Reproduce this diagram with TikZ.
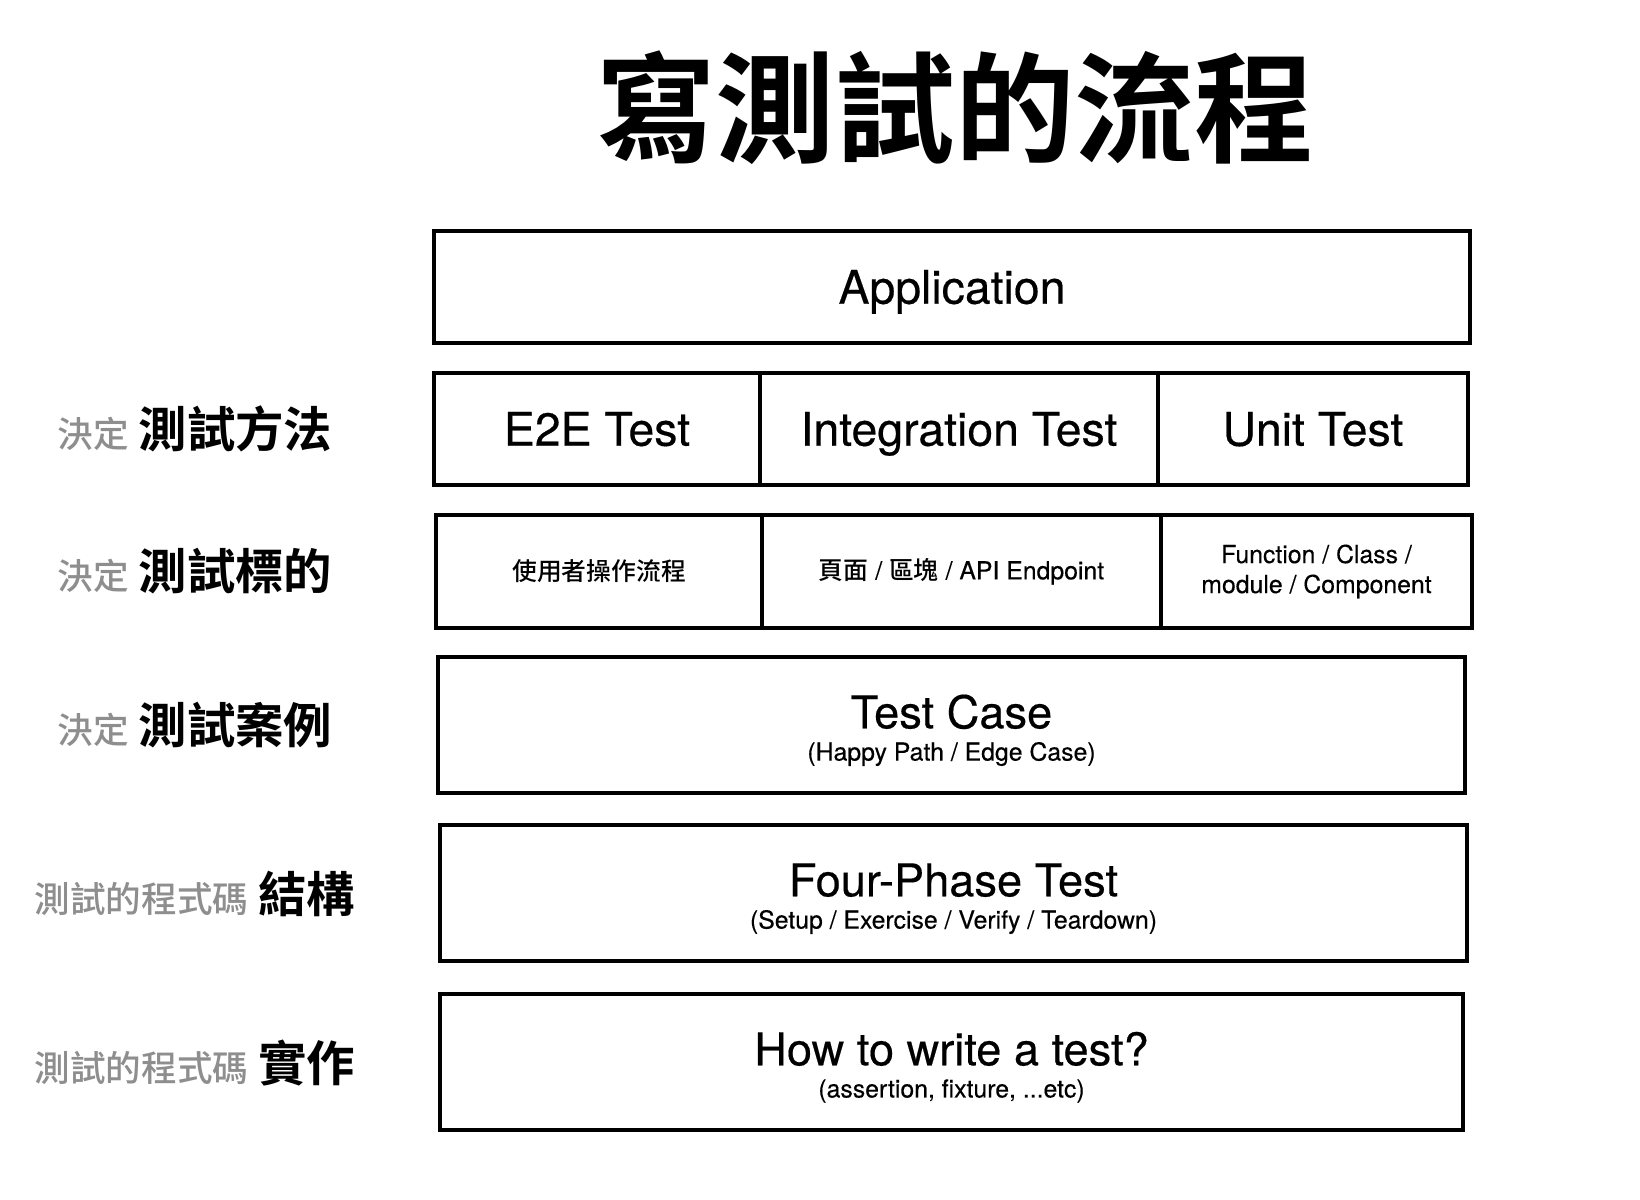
\documentclass[tikz,border=0pt]{standalone}
\usepackage{fontspec}
\setmainfont{TeX Gyre Heros}[FakeBold=0.35]
\newfontfamily\cjk{Noto Sans CJK TC}[BoldFont={Noto Sans CJK TC Bold}]
\newfontfamily\cjkmed{Noto Sans CJK TC Medium}
\usetikzlibrary{positioning}
\definecolor{gris}{RGB}{142,142,142}
\newcommand{\gristxt}[1]{{\color{gris}\cjkmed\fontsize{17.8}{20}\selectfont #1}\hspace{5pt}}
\newcommand{\noirtxt}[1]{{\cjk\bfseries\fontsize{24.2}{28}\selectfont #1}}

\begin{document}
\begin{tikzpicture}[x=0.5pt,y=-0.5pt]
\tikzset{boite/.style={draw, line width=2pt, inner sep=0pt, minimum height=56pt},
	haute/.style={boite, minimum height=68pt},
	grand/.style={font=\fontsize{23.2}{26}\selectfont, text height=16.7pt, text depth=0pt},
	moyen/.style={font=\fontsize{22.6}{26}\selectfont, text height=16.3pt, text depth=0pt},
	petit/.style={font=\fontsize{12.4}{15}\selectfont, align=center, inner sep=0pt}};
\useasboundingbox (0,0) rectangle (1640,1200);
\node[font=\cjk\bfseries\fontsize{59.8}{64}\selectfont] (titre) at (955,108) {寫測試的流程};
% application
\node[boite, grand, minimum width=518pt] (app) at (952,287) {Application};
% methodes
\node[boite, grand, minimum width=163pt] (e2e) at (597,429) {E2E Test};
\node[boite, grand, minimum width=199pt] (integ) at (959,429) {Integration Test};
\node[boite, grand, minimum width=155pt] (unit) at (1313,429) {Unit Test};
% cibles
\node[boite, petit, minimum width=163pt, minimum height=56.5pt] (flux) at (599,571.5) {\cjkmed 使用者操作流程};
\node[boite, petit, minimum width=199.5pt, minimum height=56.5pt] (page) at (961.5,571.5) {{\cjkmed 頁面} / {\cjkmed 區塊} / API Endpoint};
\node[boite, petit, minimum width=155.5pt, minimum height=56.5pt] (fonc) at (1316.5,571.5) {Function / Class /\\module / Component};
% cas
\node[haute, minimum width=513.5pt] (cas) at (951.5,725) {};
\node[moyen] (castitre) at ([yshift=6.5pt]cas.center) {Test Case};
\node[petit] (cassous) at ([yshift=-14.5pt]cas.center) {(Happy Path / Edge Case)};
% structure
\node[haute, minimum width=513.5pt] (phase) at (953.5,893) {};
\node[moyen] (phasetitre) at ([yshift=6.5pt]phase.center) {Four-Phase Test};
\node[petit] (phasesous) at ([yshift=-14.5pt]phase.center) {(Setup / Exercise / Verify / Teardown)};
% ecriture
\node[haute, minimum width=511.5pt] (ecrire) at (951.5,1062) {};
\node[moyen] (ecriretitre) at ([yshift=6.5pt]ecrire.center) {How to write a test?};
\node[petit] (ecriresous) at ([yshift=-14.5pt]ecrire.center) {(assertion, fixture, ...etc)};
% etiquettes
\node (lab1) at (195,429) {\gristxt{決定}\noirtxt{測試方法}};
\node (lab2) at (195,571) {\gristxt{決定}\noirtxt{測試標的}};
\node (lab3) at (195,725) {\gristxt{決定}\noirtxt{測試案例}};
\node (lab4) at (195,894) {\gristxt{測試的程式碼}\noirtxt{結構}};
\node (lab5) at (195,1063) {\gristxt{測試的程式碼}\noirtxt{實作}};
\end{tikzpicture}
\end{document}
